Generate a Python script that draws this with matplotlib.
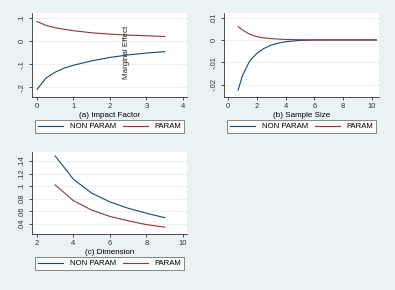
import numpy as np
import matplotlib.pyplot as plt

plt.rcParams['font.family'] = ['Liberation Sans', 'DejaVu Sans']

# (a) Impact Factor
x_a = [0, 0.25, 0.5, 0.75, 1, 1.5, 2, 2.5, 3, 3.5]
np_a = [-0.21, -0.16, -0.135, -0.117, -0.105, -0.086, -0.071, -0.060, -0.052, -0.046]
p_a = [0.085, 0.068, 0.058, 0.051, 0.045, 0.036, 0.030, 0.026, 0.023, 0.020]

# (b) Sample Size
x_b = [0.7, 1.0, 1.5, 2.0, 2.5, 3.0, 3.5, 4.0, 5.0, 6.0, 7.0, 8.0, 9.0, 10.3]
np_b = [-0.0225, -0.016, -0.0095, -0.006, -0.0038, -0.0023, -0.0014, -0.0008, -0.0002, 0, 0, 0, 0, 0]
p_b = [0.006, 0.0045, 0.0026, 0.0015, 0.0009, 0.0006, 0.0004, 0.0002, 0.0001, 0, 0, 0, 0, 0]

# (c) Dimension
x_c = [3, 4, 5, 6, 7, 8, 9]
np_c = [0.148, 0.111, 0.089, 0.075, 0.065, 0.057, 0.050]
p_c = [0.102, 0.077, 0.062, 0.052, 0.045, 0.039, 0.035]

BG = '#EAF2F3'
NAVY = '#1A476F'
MAROON = '#90353B'
W, H = 395, 290


def rect(l, t, r, b):
    return [l / W, 1 - b / H, (r - l) / W, (b - t) / H]


fig = plt.figure(figsize=(W / 100, H / 100), dpi=100, facecolor=BG)


def panel(box, x, y1, y2, xlim, ylim, xt, yt, ytl, title, legbox):
    ax = fig.add_axes(rect(*box))
    ax.set_facecolor('white')
    l1, = ax.plot(x, y1, color=NAVY, lw=0.8)
    l2, = ax.plot(x, y2, color=MAROON, lw=0.8)
    ax.set_xlim(*xlim)
    ax.set_ylim(*ylim)
    ax.set_xticks(xt)
    ax.set_yticks(yt)
    ax.set_yticklabels(ytl, rotation=90, va='center')
    for s in ['top', 'right']:
        ax.spines[s].set_visible(False)
    for s in ['left', 'bottom']:
        ax.spines[s].set_color('#333333')
        ax.spines[s].set_linewidth(0.6)
    ax.tick_params(labelsize=5.5, length=2.5, width=0.6, pad=2, colors='#333333')
    ax.grid(axis='y', color=BG, lw=0.8)
    ax.set_axisbelow(True)
    ax.set_xlabel(title, fontsize=5.8, labelpad=1)
    leg = fig.legend([l1, l2], ['NON PARAM', 'PARAM'], loc='lower left',
                     bbox_to_anchor=rect(*legbox), bbox_transform=fig.transFigure,
                     mode='expand', ncol=2, fontsize=5.6, handlelength=3.3,
                     borderpad=0.35, handletextpad=0.8, columnspacing=2.5,
                     fancybox=False, borderaxespad=0)
    leg.get_frame().set_edgecolor('#555555')
    leg.get_frame().set_linewidth(0.6)
    return ax


panel((32, 13, 187, 97), x_a, np_a, p_a, (-0.137, 4.11), (-0.243, 0.122),
      [0, 1, 2, 3, 4], [-0.2, -0.1, 0, 0.1], ['-.2', '-.1', '0', '.1'],
      '(a) Impact Factor', (35, 121, 184, 133))

panel((224, 13, 379, 97), x_b, np_b, p_b, (-0.28, 10.49), (-0.0256, 0.0121),
      [0, 2, 4, 6, 8, 10], [-0.02, -0.01, 0, 0.01], ['-.02', '-.01', '0', '.01'],
      '(b) Sample Size', (227, 121, 376, 133))

panel((32, 152, 187, 234), x_c, np_c, p_c, (1.73, 10.22), (0.0241, 0.1543),
      [2, 4, 6, 8, 10], [0.04, 0.06, 0.08, 0.1, 0.12, 0.14],
      ['.04', '.06', '.08', '.1', '.12', '.14'],
      '(c) Dimension', (35, 257, 184, 270))

fig.text(127 / W, 1 - 52 / H, 'Marginal Effect', rotation=90, fontsize=5.8,
         ha='center', va='center', color='#222222')

fig.savefig('out.png', dpi=100, facecolor=BG)
